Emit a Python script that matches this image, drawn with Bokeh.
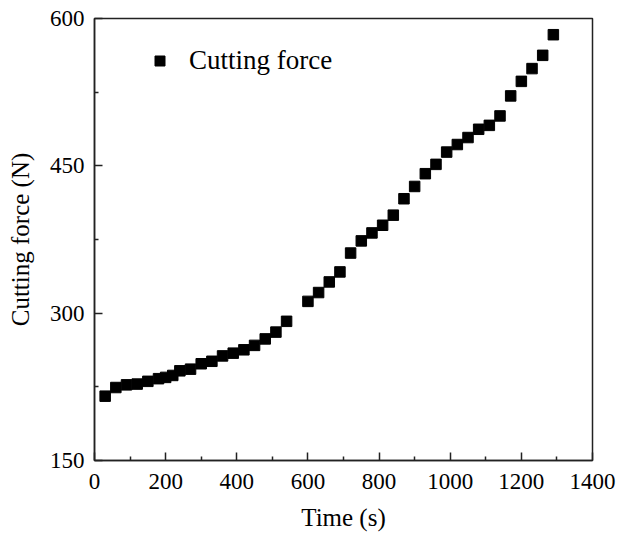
from bokeh.plotting import figure
from bokeh.models import FixedTicker, Range1d, Legend, LegendItem
from bokeh.embed import file_html
from bokeh.resources import INLINE

time_s = [30, 60, 90, 120, 150, 180, 200, 220, 240, 270, 300, 330, 360, 390, 420,
          450, 480, 510, 540, 600, 630, 660, 690, 720, 750, 780, 810, 840, 870,
          900, 930, 960, 990, 1020, 1050, 1080, 1110, 1140, 1170, 1200, 1230,
          1260, 1290]
cutting_force = [215.5, 224.3, 227.0, 227.8, 230.6, 233.3, 234.6, 236.6, 241.3,
                 243.0, 248.5, 251.0, 256.5, 259.3, 262.7, 267.2, 273.8, 280.7,
                 291.7, 312.0, 321.0, 331.8, 342.0, 361.2, 373.6, 381.7, 389.5,
                 399.8, 416.5, 429.0, 442.0, 451.5, 464.0, 471.7, 478.8, 487.2,
                 491.2, 500.8, 521.2, 536.0, 549.0, 562.5, 583.5]
x_major = [0, 200, 400, 600, 800, 1000, 1200, 1400]
x_minor = [100, 300, 500, 700, 900, 1100, 1300]
y_major = [150, 300, 450, 600]
y_minor = [225, 375, 525]

FONT = "Liberation Serif"

p = figure(width=621, height=533, output_backend="svg", toolbar_location=None,
           x_range=Range1d(0, 1400), y_range=Range1d(150, 600),
           min_border_left=94, min_border_right=29, min_border_top=18,
           min_border_bottom=72)

r = p.scatter(time_s, cutting_force, marker="square", size=10.5,
              fill_color="black", line_color="black")

p.xgrid.visible = False
p.ygrid.visible = False
p.outline_line_color = "#222222"
p.outline_line_width = 1.5
p.background_fill_color = "white"
p.border_fill_color = "white"

p.xaxis.ticker = FixedTicker(ticks=x_major, minor_ticks=x_minor)
p.yaxis.ticker = FixedTicker(ticks=y_major, minor_ticks=y_minor)

for ax in (p.xaxis[0], p.yaxis[0]):
    ax.axis_line_color = "#222222"
    ax.axis_line_width = 1.5
    ax.major_tick_in = 8
    ax.major_tick_out = 0
    ax.minor_tick_in = 4
    ax.minor_tick_out = 0
    ax.major_tick_line_color = "#222222"
    ax.minor_tick_line_color = "#222222"
    ax.major_tick_line_width = 1.5
    ax.minor_tick_line_width = 1.5
    ax.major_label_text_font = FONT
    ax.major_label_text_font_size = "23px"
    ax.major_label_text_color = "black"
    ax.major_label_text_line_height = 1.0
    ax.axis_label_text_font = FONT
    ax.axis_label_text_font_size = "25px"
    ax.axis_label_text_font_style = "normal"
    ax.axis_label_text_color = "black"
    ax.axis_label_text_line_height = 1.0

p.xaxis.axis_label = "Time (s)"
p.yaxis.axis_label = "Cutting force (N)"
p.xaxis.major_label_standoff = 13
p.xaxis.axis_label_standoff = 12
p.yaxis.major_label_standoff = 10
p.yaxis.axis_label_standoff = 13

legend = Legend(items=[LegendItem(label="Cutting force", renderers=[r])],
                location=(53, 384), padding=0, margin=0, border_line_color=None,
                background_fill_alpha=0, glyph_width=25, glyph_height=25,
                label_standoff=17, label_text_font=FONT, label_text_color="black",
                label_text_font_size="27px", label_height=25)
p.add_layout(legend, "center")

open("out.html", "w").write(file_html(p, INLINE))
